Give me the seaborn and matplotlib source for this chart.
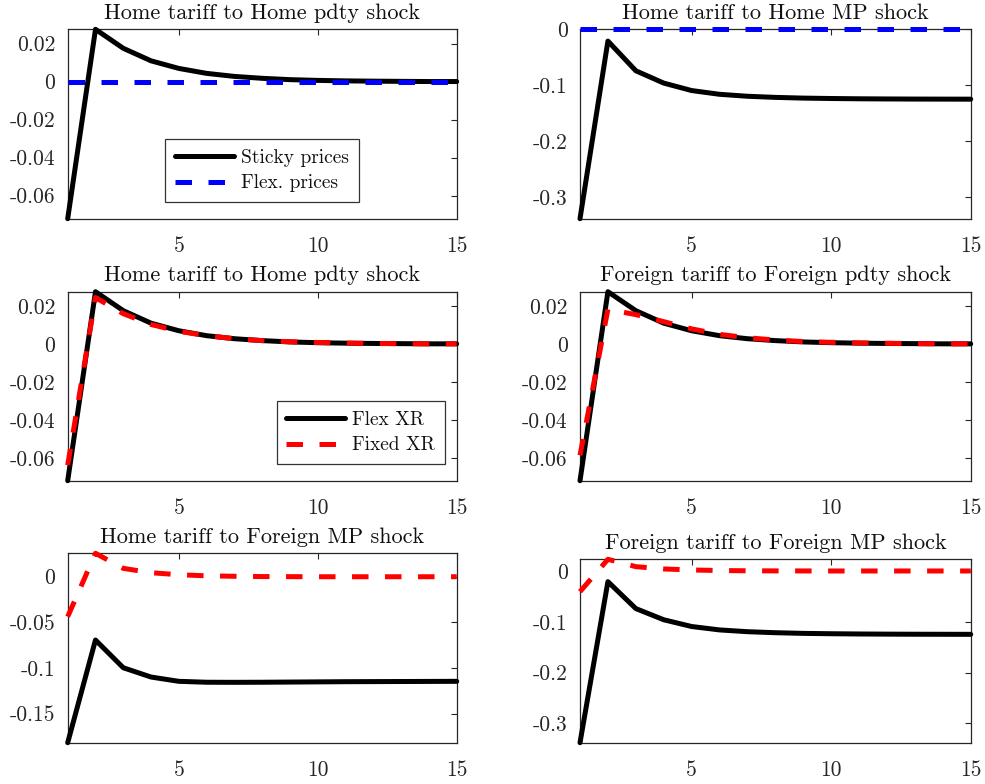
import numpy as np
import pandas as pd
import matplotlib
matplotlib.use("Agg")
import matplotlib.pyplot as plt
from matplotlib.ticker import FuncFormatter, FixedLocator
import seaborn as sns

# ---------------- data ----------------
horizon = list(range(1, 16))

sticky_pdty = [-0.0721, 0.0276, 0.0176, 0.0110, 0.0070, 0.0044, 0.0028, 0.0018,
               0.0011, 0.0007, 0.00045, 0.0003, 0.0002, 0.0001, 0.0001]
flex_zero = [0.0, 0.0, 0.0, 0.0, 0.0, 0.0, 0.0, 0.0, 0.0, 0.0, 0.0, 0.0, 0.0, 0.0, 0.0]
sticky_mp = [-0.338, -0.021, -0.074, -0.0960, -0.1093, -0.1160, -0.1195, -0.1215,
             -0.1228, -0.1235, -0.1240, -0.1243, -0.1245, -0.1246, -0.1247]
fixed_home_pdty = [-0.0639, 0.0245, 0.0160, 0.0103, 0.0067, 0.0044, 0.0028, 0.0018,
                   0.0012, 0.0008, 0.0005, 0.0003, 0.0002, 0.0001, 0.0001]
fixed_foreign_pdty = [-0.0587, 0.0183, 0.0155, 0.0118, 0.0080, 0.0051, 0.0033, 0.0021,
                      0.0013, 0.0009, 0.0006, 0.0004, 0.0002, 0.0001, 0.0001]
flex_home_fmp = [-0.182, -0.0694, -0.0998, -0.1100, -0.1147, -0.1157, -0.1158, -0.1157,
                 -0.1155, -0.1153, -0.1151, -0.1150, -0.1149, -0.1148, -0.1147]
fixed_home_fmp = [-0.0438, 0.0257, 0.0092, 0.0044, 0.0022, 0.0010, 0.0005, 0.0002,
                  0.0001, 0.0, 0.0, 0.0, 0.0, 0.0, 0.0]
fixed_foreign_fmp = [-0.0407, 0.0230, 0.0085, 0.0040, 0.0020, 0.0009, 0.0004, 0.0002,
                     0.0001, 0.0, 0.0, 0.0, 0.0, 0.0, 0.0]

titles = ["Home tariff to Home pdty shock", "Home tariff to Home MP shock",
          "Home tariff to Home pdty shock", "Foreign tariff to Foreign pdty shock",
          "Home tariff to Foreign MP shock", "Foreign tariff to Foreign MP shock"]
labels_top = ["Sticky prices", "Flex. prices"]
labels_xr = ["Flex XR", "Fixed XR"]
xticks = [5, 10, 15]
yticks = [
    [0.02, 0, -0.02, -0.04, -0.06],
    [0, -0.1, -0.2, -0.3],
    [0.02, 0, -0.02, -0.04, -0.06],
    [0.02, 0, -0.02, -0.04, -0.06],
    [0, -0.05, -0.1, -0.15],
    [0, -0.1, -0.2, -0.3],
]

panels = [
    (sticky_pdty, flex_zero, "#0000ff", labels_top),
    (sticky_mp, flex_zero, "#0000ff", None),
    (sticky_pdty, fixed_home_pdty, "#ff0000", labels_xr),
    (sticky_pdty, fixed_foreign_pdty, "#ff0000", None),
    (flex_home_fmp, fixed_home_fmp, "#ff0000", None),
    (sticky_mp, fixed_foreign_fmp, "#ff0000", None),
]

# ---------------- style ----------------
sns.set_style("white")
plt.rcParams["font.family"] = ["cmr10", "DejaVu Serif"]
plt.rcParams["axes.unicode_minus"] = False
plt.rcParams["mathtext.fontset"] = "cm"

W, H = 985, 784
fig = plt.figure(figsize=(W / 100, H / 100), dpi=100)

# axes rectangles in pixels: left, top, right, bottom
rects_px = [
    (67.7, 29.3, 456.7, 218.7), (580.0, 29.3, 970.7, 218.7),
    (67.7, 291.7, 456.7, 480.7), (580.0, 291.7, 970.7, 480.7),
    (67.7, 553.3, 456.7, 742.7), (580.0, 559.3, 970.7, 742.7),
]

axcol = "#262626"
fmt = FuncFormatter(lambda v, p: ("%g" % v).replace("\u2212", "-"))
dash = (0, (3.3, 3.3))
lw = 3.6

for i, (rp, (solid, dashed, dcol, labs)) in enumerate(zip(rects_px, panels)):
    l, t, r, b = rp
    ax = fig.add_axes([l / W, 1 - b / H, (r - l) / W, (b - t) / H])
    df = pd.DataFrame({"t": horizon, "solid": solid, "dashed": dashed})
    lab_s = labs[0] if labs else None
    lab_d = labs[1] if labs else None
    sns.lineplot(data=df, x="t", y="solid", ax=ax, color="black", linewidth=lw,
                 legend=False, label=lab_s, clip_on=False, zorder=3)
    sns.lineplot(data=df, x="t", y="dashed", ax=ax, color=dcol, linewidth=lw,
                 linestyle=dash, legend=False, label=lab_d, clip_on=False, zorder=4)
    ymin = min(min(solid), min(dashed))
    ymax = max(max(solid), max(dashed))
    ax.set_xlim(1, 15)
    ax.set_ylim(ymin, ymax)
    ax.xaxis.set_major_locator(FixedLocator(xticks))
    ax.yaxis.set_major_locator(FixedLocator(yticks[i]))
    ax.yaxis.set_major_formatter(fmt)
    ax.set_xlabel("")
    ax.set_ylabel("")
    ax.tick_params(direction="in", length=4, width=0.8, colors=axcol,
                   top=True, right=True, labelsize=15.5)
    ax.tick_params(axis="x", pad=13)
    ax.tick_params(axis="y", pad=9)
    for s in ax.spines.values():
        s.set_color(axcol)
        s.set_linewidth(0.9)
        s.set_visible(True)
    ax.set_title(titles[i], fontsize=16, color="#111111", pad=7.5)
    if labs is not None:
        if i == 0:
            leg = ax.legend(loc="lower center", bbox_to_anchor=(0.5, 0.088),
                            fontsize=14, handlelength=3.0, frameon=True,
                            fancybox=False, borderpad=0.5, labelspacing=0.4,
                            handletextpad=0.4, borderaxespad=0)
        else:
            leg = ax.legend(loc="lower right", bbox_to_anchor=(0.97, 0.088),
                            fontsize=14, handlelength=3.0, frameon=True,
                            fancybox=False, borderpad=0.5, labelspacing=0.4,
                            handletextpad=0.4, borderaxespad=0)
        leg.get_frame().set_edgecolor("black")
        leg.get_frame().set_linewidth(0.9)
        for tx in leg.get_texts():
            tx.set_color("#111111")

fig.savefig("out.png", dpi=100)
